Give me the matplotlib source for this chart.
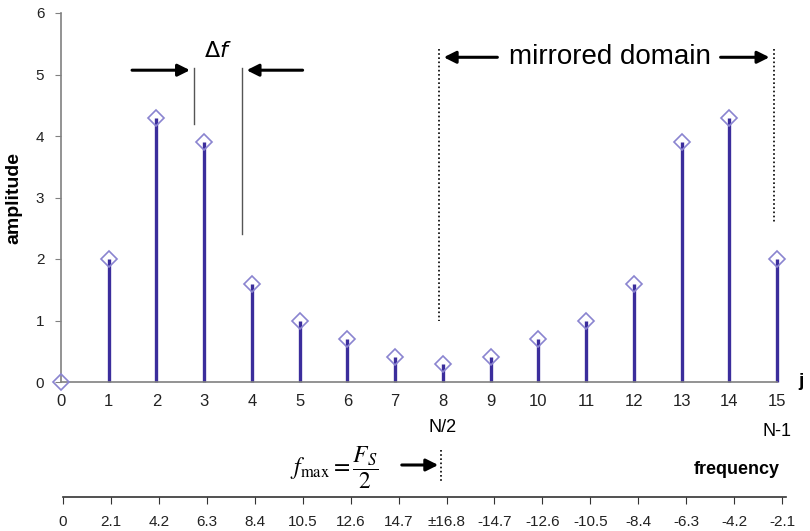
import numpy as np
import matplotlib.pyplot as plt

plt.rcParams['font.family'] = ['Liberation Sans', 'DejaVu Sans']

# data
j = np.arange(16)
amplitude = [0, 2.0, 4.3, 3.9, 1.6, 1.0, 0.7, 0.4, 0.3, 0.4, 0.7, 1.0, 1.6, 3.9, 4.3, 2.0]
freq_labels = ['0', '2.1', '4.2', '6.3', '8.4', '10.5', '12.6', '14.7', '\u00b116.8',
               '-14.7', '-12.6', '-10.5', '-8.4', '-6.3', '-4.2', '-2.1']

stem_col = '#3b2d9c'
mark_col = '#8a84d0'
axis_col = '#808080'
arrow = dict(arrowstyle='-|>', color='black', lw=2.2, mutation_scale=18)

fig = plt.figure(figsize=(8.1, 5.31), dpi=100)
ax = fig.add_axes([61 / 810, 1 - 382 / 531, 716 / 810, 369 / 531])

ax.vlines(j, 0, amplitude, color=stem_col, lw=2.4, zorder=2, clip_on=False)
ax.plot(j, amplitude, 'D', ms=8, mfc='none', mec=mark_col, mew=1.2,
        clip_on=False, zorder=3)

ax.set_xlim(0, 15)
ax.set_ylim(0, 6)
for s in ['top', 'right']:
    ax.spines[s].set_visible(False)
for s in ['left', 'bottom']:
    ax.spines[s].set_color(axis_col)
    ax.spines[s].set_linewidth(1.2)
ax.set_xticks(j)
ax.set_yticks(range(7))
ax.tick_params(axis='x', length=0, labelsize=12, pad=9, colors='#222222')
ax.tick_params(axis='y', length=4, color=axis_col, labelsize=11, pad=8, labelcolor='#222222')
ax.set_ylabel('amplitude', fontsize=14, fontweight='bold', labelpad=10)

ax.text(8, -0.6, 'N/2', ha='center', va='top', fontsize=13)
ax.text(15, -0.67, 'N-1', ha='center', va='top', fontsize=13)
ax.text(15.45, 0.0, 'j', ha='left', va='center', fontsize=14, fontweight='bold',
        clip_on=False)

# delta f annotation
ax.annotate('', xy=(2.76, 5.07), xytext=(1.43, 5.07), arrowprops=arrow)
ax.annotate('', xy=(3.83, 5.07), xytext=(5.12, 5.07), arrowprops=arrow)
ax.plot([2.79, 2.79], [5.1, 4.2], color='#555555', lw=1)
ax.plot([3.79, 3.79], [5.1, 2.4], color='#555555', lw=1)
ax.text(3.28, 5.2, r'$\Delta f$', ha='center', va='bottom', fontsize=16,
        math_fontfamily='dejavusans')

# mirrored domain annotation
ax.plot([7.92, 7.92], [5.42, 1.0], color='black', lw=1.2, ls=(0, (1, 1.5)))
ax.plot([14.93, 14.93], [5.42, 2.6], color='black', lw=1.2, ls=(0, (1, 1.5)))
ax.annotate('', xy=(7.96, 5.28), xytext=(9.2, 5.28), arrowprops=arrow)
ax.annotate('', xy=(14.9, 5.28), xytext=(13.76, 5.28), arrowprops=arrow)
ax.text(11.5, 5.28, 'mirrored domain', ha='center', va='center', fontsize=20)

# frequency axis
fax = fig.add_axes([63 / 810, 1 - 497 / 531, 723 / 810, 0.0001])
fax.set_xlim(0, 15.08)
fax.set_ylim(0, 1)
for s in ['top', 'right', 'left']:
    fax.spines[s].set_visible(False)
fax.spines['bottom'].set_color('#333333')
fax.spines['bottom'].set_linewidth(1.2)
fax.set_yticks([])
fax.set_xticks(j)
fax.set_xticklabels(freq_labels)
fax.tick_params(axis='x', length=5, color='#333333', labelsize=11, pad=8,
                labelcolor='#222222')
fax.patch.set_visible(False)

fig.text(780 / 810, 1 - 469 / 531, 'frequency', ha='right', va='center',
         fontsize=13, fontweight='bold')
fig.text(334 / 810, 1 - 468 / 531, r'$f_{\max} = \dfrac{F_S}{2}$', ha='center',
         va='center', fontsize=17, math_fontfamily='stix')
fig.add_artist(plt.Line2D([441 / 810, 441 / 810], [1 - 450 / 531, 1 - 482 / 531],
                          color='black', lw=1.2, ls=(0, (1, 1.5))))
ax.annotate('', xy=(441 / 810, 1 - 465 / 531), xytext=(399 / 810, 1 - 465 / 531),
            xycoords='figure fraction', textcoords='figure fraction',
            arrowprops=arrow, annotation_clip=False)

fig.savefig('out.png', dpi=100)
